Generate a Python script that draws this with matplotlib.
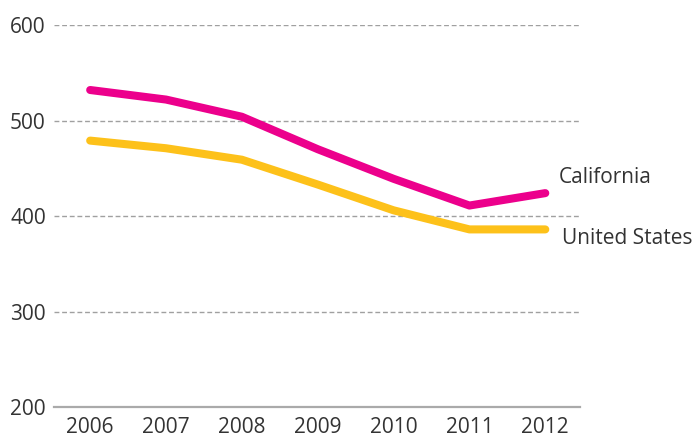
import matplotlib.pyplot as plt

years = [2006, 2007, 2008, 2009, 2010, 2011, 2012]
california = [532, 522, 504, 470, 439, 411, 424]
united_states = [479, 471, 459, 433, 406, 386, 386]
y_ticks = [200, 300, 400, 500, 600]

pink = "#EC008C"
yellow = "#FDC11A"
text_col = "#333333"

plt.rcParams["font.family"] = ["Open Sans", "DejaVu Sans"]

fig = plt.figure(figsize=(6.94, 4.40), dpi=100)
ax = fig.add_axes([0.078, 0.075, 0.758, 0.868])

ax.plot(years, california, color=pink, lw=5.8, solid_capstyle="round",
        solid_joinstyle="round", zorder=3)
ax.plot(years, united_states, color=yellow, lw=5.8, solid_capstyle="round",
        solid_joinstyle="round", zorder=3)

ax.set_xlim(2005.525, 2012.46)
ax.set_ylim(200, 600)
ax.set_xticks(years)
ax.set_xticklabels([str(y) for y in years])
ax.set_yticks(y_ticks)

for v in y_ticks[1:]:
    ax.axhline(v, color="#a0a0a0", lw=1.0, ls=(0, (3.5, 2)), zorder=1)

for s in ["top", "right", "left"]:
    ax.spines[s].set_visible(False)
ax.spines["bottom"].set_color("#aaaaaa")
ax.spines["bottom"].set_linewidth(1.6)

ax.tick_params(axis="both", length=0, labelsize=15, colors=text_col)
ax.tick_params(axis="y", pad=6)
ax.tick_params(axis="x", pad=7)

ax.text(years[-1] + 0.18, 440, "California", fontsize=15, color=text_col,
        va="center", ha="left", clip_on=False)
ax.text(years[-1] + 0.22, 376, "United States", fontsize=15, color=text_col,
        va="center", ha="left", clip_on=False)

fig.savefig("out.png", dpi=100)
